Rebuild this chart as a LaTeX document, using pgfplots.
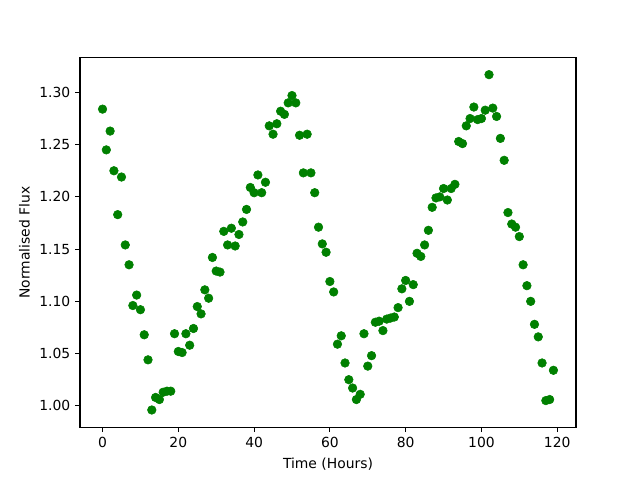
\documentclass[border=0pt]{standalone}
\usepackage{pgfplots}
\pgfplotsset{compat=1.18}
\usepackage{fontspec}
\setmainfont{DejaVu Sans}
\definecolor{mplgreen}{HTML}{008000}
\begin{document}
\begin{tikzpicture}
\path[use as bounding box] (0,0) rectangle (460.8pt,345.6pt);
\begin{axis}[
  at={(57.6pt,38.0pt)}, anchor=south west,
  scale only axis, width=357.1pt, height=266.1pt,
  xmin=-5.95, xmax=124.95, ymin=0.9795, ymax=1.3333,
  xtick={0,20,40,60,80,100,120},
  ytick={1.00,1.05,1.10,1.15,1.20,1.25,1.30},
  yticklabel style={/pgf/number format/.cd,fixed,fixed zerofill,precision=2},
  /pgf/number format/assume math mode=true,
  tick align=outside, xtick pos=bottom, ytick pos=left,
  major tick length=3.5pt,
  every tick/.style={black, line width=0.8pt},
  axis line style={line width=0.8pt},
  tick label style={font=\fontsize{10}{12}\selectfont},
  label style={font=\fontsize{10}{12}\selectfont},
  xlabel={Time (Hours)}, ylabel={Normalised Flux},
  xlabel style={yshift=-1pt},
]
\addplot[only marks, mark=*, mark size=3.1pt, mplgreen, mark options={draw=mplgreen, fill=mplgreen}] coordinates {
(0,1.284)(1,1.245)(2,1.263)(3,1.225)(4,1.183)(5,1.219)(6,1.154)(7,1.135)(8,1.096)(9,1.106)
(10,1.092)(11,1.068)(12,1.044)(13,0.996)(14,1.008)(15,1.006)(16,1.013)(17,1.014)(18,1.014)(19,1.069)
(20,1.052)(21,1.051)(22,1.069)(23,1.058)(24,1.074)(25,1.095)(26,1.088)(27,1.111)(28,1.103)(29,1.142)
(30,1.129)(31,1.128)(32,1.167)(33,1.154)(34,1.170)(35,1.153)(36,1.164)(37,1.176)(38,1.188)(39,1.209)
(40,1.204)(41,1.221)(42,1.204)(43,1.214)(44,1.268)(45,1.260)(46,1.270)(47,1.282)(48,1.279)(49,1.290)
(50,1.297)(51,1.290)(52,1.259)(53,1.223)(54,1.260)(55,1.223)(56,1.204)(57,1.171)(58,1.155)(59,1.147)
(60,1.119)(61,1.109)(62,1.059)(63,1.067)(64,1.041)(65,1.025)(66,1.017)(67,1.006)(68,1.011)(69,1.069)
(70,1.038)(71,1.048)(72,1.080)(73,1.081)(74,1.072)(75,1.083)(76,1.084)(77,1.085)(78,1.094)(79,1.112)
(80,1.120)(81,1.100)(82,1.116)(83,1.146)(84,1.143)(85,1.154)(86,1.168)(87,1.190)(88,1.199)(89,1.200)
(90,1.208)(91,1.197)(92,1.208)(93,1.212)(94,1.253)(95,1.251)(96,1.268)(97,1.275)(98,1.286)(99,1.274)
(100,1.275)(101,1.283)(102,1.317)(103,1.285)(104,1.277)(105,1.256)(106,1.235)(107,1.185)(108,1.174)(109,1.171)
(110,1.162)(111,1.135)(112,1.115)(113,1.100)(114,1.078)(115,1.066)(116,1.041)(117,1.005)(118,1.006)(119,1.034)
};
\end{axis}
\end{tikzpicture}
\end{document}
